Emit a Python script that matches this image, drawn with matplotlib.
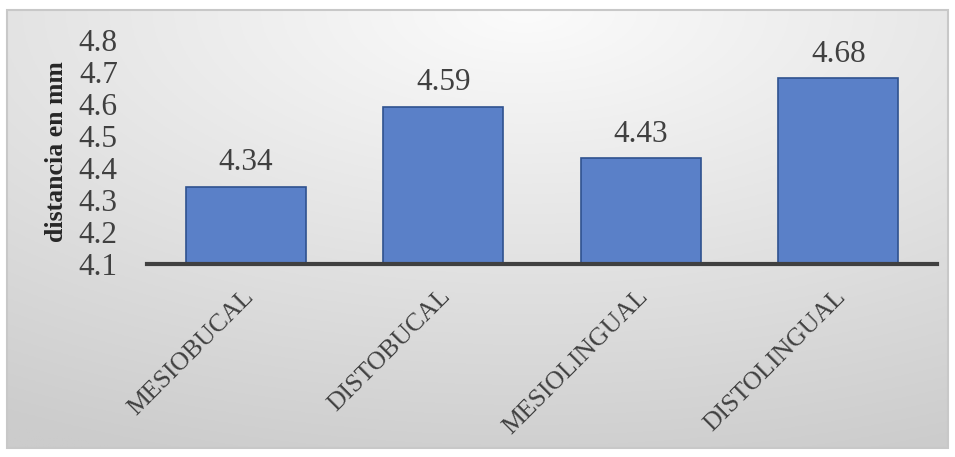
import matplotlib
matplotlib.use("Agg")
import matplotlib.pyplot as plt
import numpy as np
from matplotlib.patches import Rectangle

categories = ["MESIOBUCAL", "DISTOBUCAL", "MESIOLINGUAL", "DISTOLINGUAL"]
values = [4.34, 4.59, 4.43, 4.68]
yticks = [4.1, 4.2, 4.3, 4.4, 4.5, 4.6, 4.7, 4.8]
ylabel = "distancia en mm"

W, H = 955, 457
fig = plt.figure(figsize=(W/100, H/100), dpi=100)
fig.patch.set_facecolor("white")

# gradient background inside border
bx0, by0, bx1, by1 = 7, 10, 948, 448
bg = fig.add_axes([bx0/W, 1-by1/H, (bx1-bx0)/W, (by1-by0)/H], zorder=0)
yy, xx = np.mgrid[0:1:200j, 0:1:400j]
d = np.sqrt(((xx-0.55)*1.0)**2 + (yy*1.0)**2)
val = 0.985 - 0.17*np.clip(d, 0, 1.2)
val = np.clip(val, 0.8, 1.0)
img = np.dstack([val, val, val])
bg.imshow(img, aspect="auto", extent=[0, 1, 0, 1], origin="upper")
bg.set_axis_off()
fig.patches.append(Rectangle((bx0/W, 1-by1/H), (bx1-bx0)/W, (by1-by0)/H,
                             transform=fig.transFigure, fill=False,
                             edgecolor="#c8c8c8", linewidth=1.5, zorder=5))

ax0, ax1 = 147, 937
ay0, ay1 = 264, 40
ax = fig.add_axes([ax0/W, 1-ay0/H, (ax1-ax0)/W, (ay0-ay1)/H], zorder=2)
ax.patch.set_alpha(0)

x = np.arange(len(categories))
ax.bar(x, [v-4.1 for v in values], bottom=4.1, width=0.61,
       color="#5a80c8", edgecolor="#2f528f", linewidth=1.2, zorder=3)
ax.set_xlim(-0.5, len(categories)-0.5)
ax.set_ylim(4.1, 4.8)
ax.set_yticks(yticks)
ax.set_yticklabels([f"{t:.1f}" for t in yticks], fontsize=22.5,
                   family="Liberation Serif", color="#404040")
ax.tick_params(axis="y", length=0, pad=21)
ax.tick_params(axis="x", length=0)
ax.set_xticks(x)
ax.set_xticklabels([])
for s in ["top", "right", "left"]:
    ax.spines[s].set_visible(False)
ax.spines["bottom"].set_color("#404040")
ax.spines["bottom"].set_linewidth(3)
ax.spines["bottom"].set_zorder(4)

for xi, v in zip(x, values):
    ax.annotate(f"{v:.2f}", (xi, v), xytext=(0, 7), textcoords="offset points",
                ha="center", va="bottom", fontsize=22.5,
                family="Liberation Serif", color="#404040")

for xi, c in zip(x, categories):
    ax.annotate(c, (xi, 4.1), xytext=(3, -21), textcoords="offset points",
                ha="right", va="center", rotation=45, rotation_mode="anchor",
                fontsize=18.5, family="Liberation Serif", color="#404040",
                annotation_clip=False)

ax.set_ylabel(ylabel, fontsize=18.5, family="Liberation Serif", fontweight="bold",
              color="#262626", labelpad=8)

fig.savefig("out.png", dpi=100)
